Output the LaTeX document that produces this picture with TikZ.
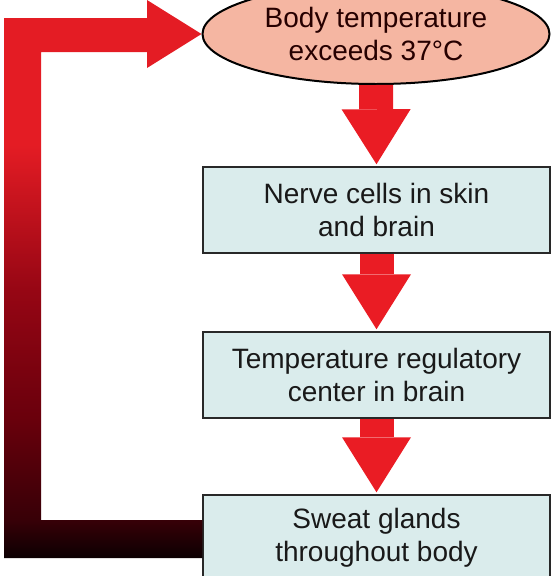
\documentclass[tikz,border=0pt]{standalone}
\usepackage{fontspec}
\setmainfont{Liberation Sans}
\usetikzlibrary{arrows.meta,shapes.geometric,calc}

\definecolor{arrowred}{RGB}{234,28,36}
\definecolor{ovalfill}{RGB}{245,182,162}
\definecolor{boxfill}{RGB}{218,236,236}
\definecolor{boxline}{RGB}{40,40,40}
\definecolor{lpTop}{RGB}{228,28,36}
\definecolor{lpA}{RGB}{150,6,20}
\definecolor{lpB}{RGB}{105,0,12}
\definecolor{lpC}{RGB}{55,0,7}
\definecolor{lpBot}{RGB}{12,0,2}
\pgfdeclareverticalshading{loopshade}{100bp}{color(0bp)=(lpBot); color(25bp)=(lpBot); color(28.4bp)=(lpC); color(37.4bp)=(lpB); color(49bp)=(lpA); color(62bp)=(lpTop); color(100bp)=(lpTop)}

\tikzset{
  label font/.style={font=\fontsize{28}{33}\selectfont, align=center},
  oval/.style={ellipse, draw=black, line width=2pt, fill=ovalfill,
    minimum width=347pt, minimum height=100pt, inner sep=0pt, label font,
    text=black!85!red},
  stage/.style={rectangle, draw=boxline, line width=1.5pt, fill=boxfill,
    minimum width=347pt, minimum height=86pt, inner sep=0pt, label font,
    text=black!90},
  flow/.style={draw=arrowred, line width=34pt,
    -{Triangle[width=69pt,length=55pt,line width=0pt]}, shorten >=2pt}
}

\begin{document}
\begin{tikzpicture}[x=1pt,y=-1pt]
  \useasboundingbox (0,0) rectangle (552,576);

  % stimulus and the chain of responses
  \node[oval]  (temp)   at (376,34)    {Body temperature\\exceeds 37\textdegree C};
  \node[stage] (nerve)  at (376.5,210) {Nerve cells in skin\\and brain};
  \node[stage] (center) at (376.5,375) {Temperature regulatory\\center in brain};
  \node[stage] (sweat)  at (376.5,538) {Sweat glands\\throughout body};

  \draw[flow] (temp.south) -- (nerve.north);
  \draw[flow] (nerve.south) -- (center.north);
  \draw[flow] (center.south) -- (sweat.north);

  % feedback loop back to the stimulus
  \shade[shading=loopshade]
    ($(sweat.west)+(0,20)$) -| (4,18) -- (147,18) -- (147,0)
    -- (temp.west) -- (147,68) -- (147,52) -- (41,52)
    |- ($(sweat.west)+(0,-18)$) -- cycle;
\end{tikzpicture}
\end{document}
